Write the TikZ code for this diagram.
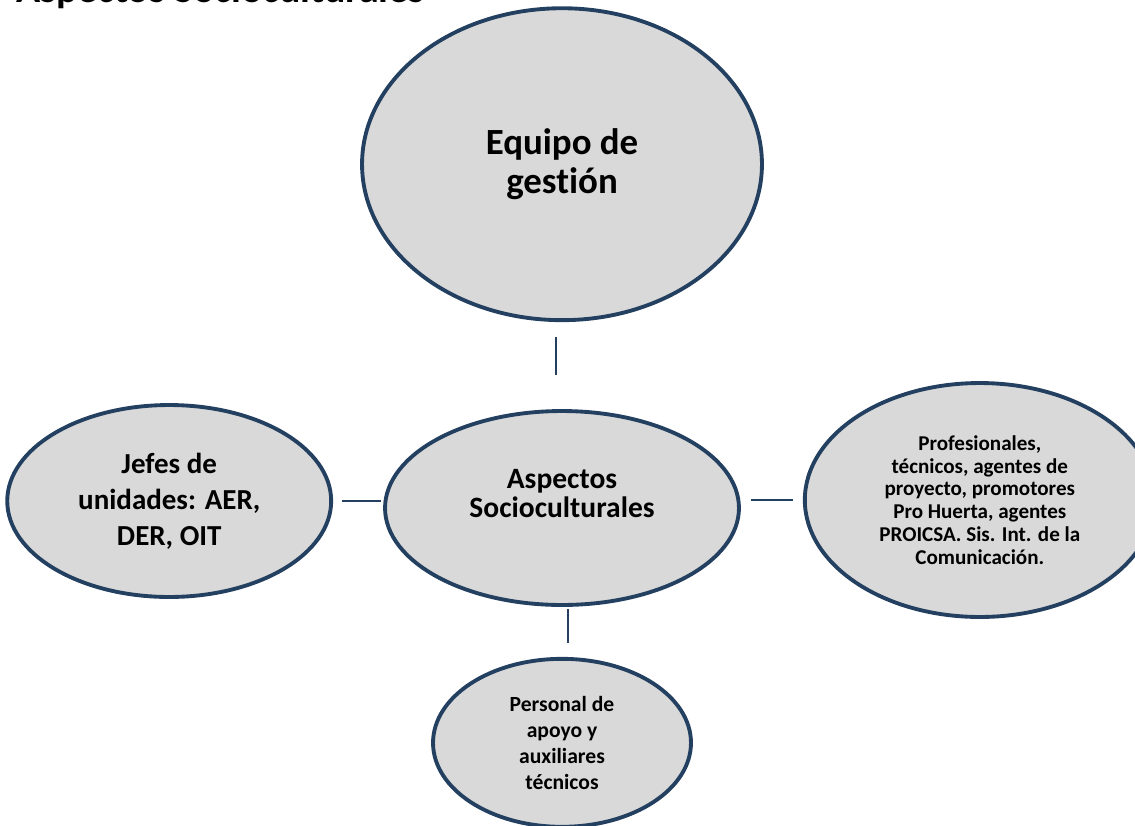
\documentclass[tikz,border=0pt]{standalone}
\usepackage{fontspec}
\setmainfont{Carlito}[Ligatures=NoCommon]
\usepackage{xcolor}
\definecolor{ovalfill}{RGB}{217,217,217}
\definecolor{ovalborder}{RGB}{36,64,97}
\usetikzlibrary{positioning}
\usetikzlibrary{shapes}

\begin{document}
\begin{tikzpicture}[x=0.02cm,y=-0.02cm,font=\bfseries,
      oval style/.style={ellipse,draw=ovalborder,fill=ovalfill,line
        width=2.2pt,inner sep=0pt,align=center},
      link style/.style={draw=ovalborder,line width=1.3pt}
      ]
      \useasboundingbox (0,0) rectangle (1135,825);
      \clip (0,0) rectangle (1135,825);

      \node[anchor=base west,font=\bfseries\fontsize{22.7}{27}\selectfont] (titulo) at (10,2) {Aspectos Socioculturales};

      \node[oval style,minimum width=7.08cm,minimum height=3.88cm,text depth=0.6cm,font=\bfseries\fontsize{16.8}{16.5}\selectfont] (aspectos) at (562,508) {Aspectos \\ Socioculturales};

      \node[oval style,above=1.74cm of aspectos,minimum width=8cm,minimum height=6.24cm,font=\bfseries\fontsize{21}{22}\selectfont] (equipo) {Equipo de \\ gestión};
      \node[oval style,left=1cm of aspectos,yshift=0.14cm,minimum width=6.48cm,minimum height=3.84cm,font=\bfseries\fontsize{16.5}{20.5}\selectfont] (jefes) {Jefes de \\ unidades: AER, \\ DER, OIT};
      \node[oval style,right=1.24cm of aspectos,yshift=0.16cm,minimum width=7cm,minimum height=4.68cm,font=\bfseries\fontsize{12}{13}\selectfont] (profesionales) {Profesionales, \\ técnicos, agentes de \\ proyecto, promotores \\ Pro Huerta, agentes \\ PROICSA. Sis. Int. de la \\ Comunicación.};
      \node[oval style,below=1cm of aspectos,minimum width=5.16cm,minimum height=3.36cm,font=\bfseries\fontsize{12.3}{14.7}\selectfont] (personal) {Personal de \\ apoyo y \\ auxiliares \\ técnicos};

      \draw[link style,shorten <=0.3cm,shorten >=0.68cm] ([xshift=-0.12cm]equipo.south) -- ([xshift=-0.12cm]aspectos.north);
      \draw[link style,shorten <=0.18cm,shorten >=0.04cm] (jefes.east) -- (jefes.east -| aspectos.west);
      \draw[link style,shorten <=0.2cm,shorten >=0.2cm] (profesionales.west -| aspectos.east) -- (profesionales.west);
      \draw[link style,shorten <=0.04cm,shorten >=0.28cm] ([xshift=0.12cm]aspectos.south) -- ([xshift=0.12cm]personal.north);
    \end{tikzpicture}
\end{document}
